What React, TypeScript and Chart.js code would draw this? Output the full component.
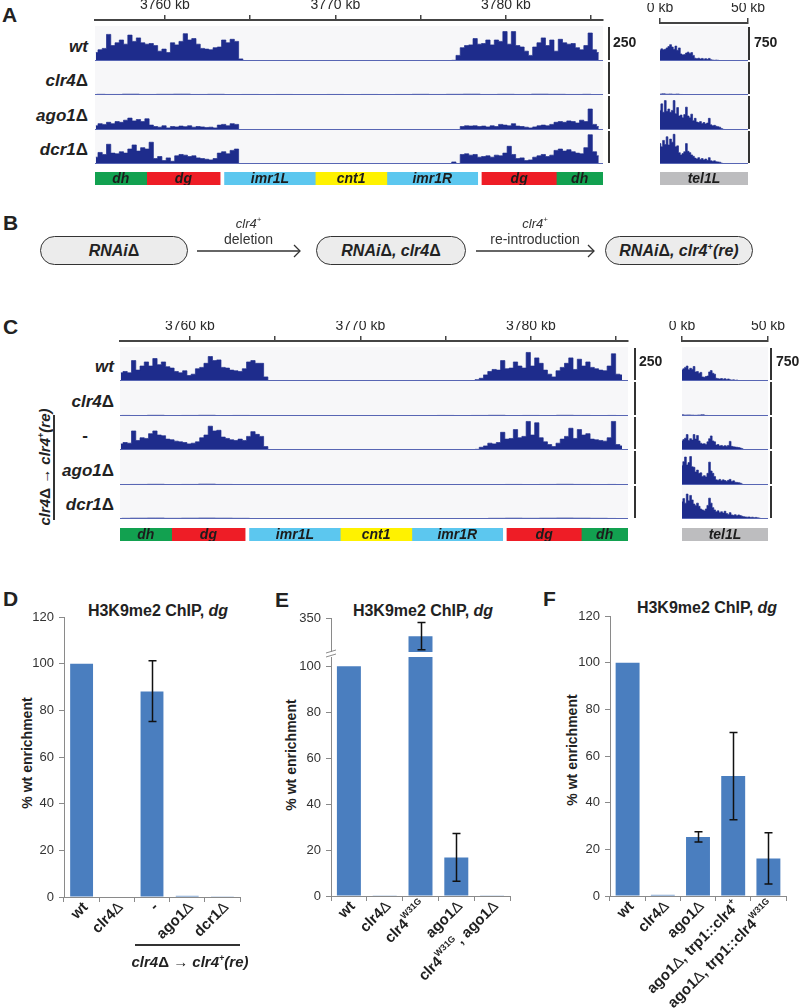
import React, { useEffect, useRef } from "react";
import { Chart, registerables } from "chart.js";
Chart.register(...registerables);

const FONT = "'Liberation Sans', Arial, Helvetica, sans-serif";
const NAVY = "#1e2c8c";
const BASELINE = "#5866b4";
const TRACK_BG = "#f7f7f9";
const BAR_BLUE = "#4a7ebf";
const AXIS_GREY = "#8a8a8a";

// ---------------- data: genome tracks ----------------
const CEN_MIN = 3755.9;
const CEN_MAX = 3785.7;
const TEL_MIN = 0;
const TEL_MAX = 50;
const CEN_SCALE = 250;
const TEL_SCALE = 750;
const CEN_BIN = 0.25;
const TEL_BIN = 1;
const FLAT_BIN = 1;
const FLAT_TEL_BIN = 2;
const CEN_FLAT_START = 3756;
const A_LEFT_START = 3755.95;
const A_RIGHT_START = 3776.7;
const C_LEFT_START = 3755.95;
const C_RIGHT_START = 3776.35;

const CEN_RULER_TICKS = [3760, 3765, 3770, 3775, 3780, 3785];
const CEN_RULER_LABELS = [3760, 3770, 3780];
const TEL_RULER_TICKS = [0, 50];
const TEL_RULER_LABELS = [0, 50];

const FEATURE_NAMES = ["dh", "dg", "imr1L", "cnt1", "imr1R", "dg", "dh"];
const FEATURE_START = [3755.9, 3758.93, 3763.5, 3768.82, 3773.02, 3778.6, 3782.96];
const FEATURE_END = [3758.93, 3763.24, 3768.82, 3773.02, 3778.35, 3782.96, 3785.7];
const FEATURE_COLORS = ["#12a150", "#ee1d26", "#5cc7ef", "#fff200", "#5cc7ef", "#ee1d26", "#12a150"];
const TEL_FEATURE_NAMES = ["tel1L"];
const TEL_FEATURE_START = [0];
const TEL_FEATURE_END = [50];
const TEL_FEATURE_COLORS = ["#bdbdbf"];

// Panel A
const A_ROWS = ["wt", "clr4Δ", "ago1Δ", "dcr1Δ"];
const A_WT_L = [60, 80, 90, 190, 110, 130, 150, 120, 185, 140, 165, 130, 120, 125, 110, 70, 85, 60, 130, 115, 140, 195, 150, 160, 120, 90, 85, 80, 95, 100, 150, 130, 155, 140, 15, 0];
const A_WT_R = [3, 5, 40, 95, 110, 115, 160, 120, 125, 150, 115, 150, 140, 210, 120, 210, 110, 100, 70, 40, 100, 130, 165, 110, 150, 70, 155, 130, 120, 125, 95, 80, 110, 200, 80, 60];
const A_CLR4_CEN = [5, 4, 6, 4, 5, 6, 4, 5, 3, 4, 3, 4, 3, 3, 4, 3, 4, 3, 4, 5, 4, 5, 6, 4, 5, 4, 6, 5, 4, 5];
const A_AGO_L = [30, 45, 40, 55, 45, 60, 55, 70, 85, 65, 75, 60, 80, 35, 25, 20, 30, 15, 25, 22, 28, 24, 30, 20, 25, 22, 18, 20, 15, 35, 40, 30, 45, 40, 3, 0];
const A_AGO_R = [0, 0, 2, 25, 30, 28, 30, 25, 28, 22, 30, 25, 40, 35, 30, 45, 28, 25, 20, 15, 22, 30, 35, 30, 40, 55, 60, 55, 65, 60, 50, 70, 60, 150, 40, 25];
const A_DCR_L = [50, 85, 70, 145, 80, 75, 90, 80, 110, 140, 95, 120, 110, 160, 40, 55, 25, 45, 20, 60, 70, 65, 55, 60, 45, 40, 35, 30, 40, 80, 90, 75, 100, 110, 3, 0];
const A_DCR_R = [0, 15, 3, 70, 75, 65, 70, 50, 55, 60, 50, 65, 60, 80, 130, 70, 40, 45, 25, 30, 50, 60, 70, 55, 65, 100, 110, 95, 105, 90, 80, 75, 120, 215, 90, 60];
const A_WT_TEL = [230, 260, 240, 250, 280, 310, 350, 300, 250, 320, 230, 280, 150, 130, 140, 170, 190, 160, 180, 120, 60, 50, 60, 45, 55, 40, 50, 35, 55, 25, 20, 15, 20, 15, 10, 3, 0];
const A_CLR4_TEL = [20, 25, 18, 22, 15, 20, 12, 10, 8, 6, 5, 4, 3, 3, 2, 2, 2, 2, 2, 2, 2, 2, 2, 2, 2, 2];
const A_AGO_TEL = [420, 560, 380, 630, 400, 450, 380, 420, 630, 350, 480, 300, 320, 260, 330, 490, 300, 260, 340, 200, 250, 170, 160, 180, 140, 160, 130, 150, 250, 110, 90, 100, 80, 70, 60, 30, 15, 5, 0];
const A_DCR_TEL = [450, 380, 520, 430, 600, 420, 550, 480, 655, 380, 400, 250, 200, 230, 270, 450, 280, 250, 200, 170, 130, 110, 140, 100, 120, 90, 110, 80, 140, 70, 60, 70, 50, 45, 40, 20, 10, 0];

// Panel C
const C_ROWS = ["wt", "clr4Δ", "-", "ago1Δ", "dcr1Δ"];
const C_WT_L = [60, 70, 60, 150, 80, 110, 140, 110, 165, 120, 140, 105, 95, 70, 60, 75, 40, 50, 90, 100, 130, 180, 150, 155, 100, 95, 80, 75, 70, 90, 140, 150, 130, 130, 30, 2];
const C_WT_R = [0, 2, 10, 20, 45, 70, 85, 80, 150, 90, 95, 140, 110, 95, 210, 110, 170, 130, 80, 50, 30, 75, 100, 130, 170, 85, 160, 110, 140, 100, 90, 80, 75, 110, 200, 50, 45];
const C_CLR4_CEN = [4, 3, 5, 3, 4, 5, 3, 4, 2, 3, 2, 3, 2, 2, 3, 2, 3, 2, 3, 4, 3, 4, 5, 3, 4, 3, 5, 4, 3, 4];
const C_RE_L = [45, 55, 50, 140, 70, 90, 85, 120, 140, 110, 105, 80, 75, 65, 60, 55, 45, 50, 60, 90, 110, 175, 140, 145, 95, 85, 75, 70, 80, 70, 100, 135, 115, 100, 25, 2];
const C_RE_R = [0, 2, 5, 20, 30, 50, 45, 55, 130, 80, 85, 150, 90, 100, 210, 110, 200, 90, 60, 40, 25, 50, 80, 100, 160, 85, 150, 110, 120, 80, 75, 70, 65, 90, 210, 40, 30];
const C_AGO_CEN = [3, 4, 5, 3, 4, 6, 4, 3, 2, 1, 1, 1, 1, 1, 1, 1, 1, 1, 1, 1, 1, 2, 3, 4, 3, 4, 5, 4, 3, 4];
const C_DCR_CEN = [5, 6, 7, 5, 6, 7, 6, 5, 3, 1, 1, 1, 1, 1, 1, 1, 1, 1, 1, 1, 1, 2, 5, 6, 5, 6, 7, 6, 5, 4];
const C_WT_TEL = [240, 270, 300, 330, 250, 280, 260, 320, 200, 210, 170, 190, 90, 80, 100, 110, 200, 230, 170, 150, 60, 50, 45, 55, 40, 50, 35, 45, 25, 20, 25, 15, 20, 10, 5, 0];
const C_CLR4_TEL = [25, 20, 22, 18, 15, 20, 25, 12, 10, 8, 6, 5, 4, 4, 3, 3, 3, 3, 3, 3, 3, 3, 3, 3, 3, 3];
const C_RE_TEL = [200, 230, 260, 340, 210, 250, 220, 340, 240, 320, 200, 150, 130, 140, 120, 180, 250, 310, 200, 180, 110, 120, 90, 100, 80, 95, 85, 100, 190, 80, 70, 65, 60, 55, 45, 30, 5, 0];
const C_AGO_TEL = [420, 500, 600, 430, 480, 610, 390, 380, 280, 320, 250, 260, 180, 200, 170, 250, 490, 300, 250, 180, 110, 100, 120, 90, 110, 95, 80, 100, 120, 75, 90, 60, 55, 50, 40, 20, 5, 0];
const C_DCR_TEL = [380, 450, 350, 550, 400, 520, 420, 330, 300, 350, 280, 220, 200, 180, 220, 300, 460, 350, 250, 200, 160, 180, 140, 160, 130, 170, 120, 100, 140, 90, 80, 95, 70, 90, 75, 60, 50, 45, 40, 45, 35, 40, 30, 35, 25, 20, 10, 5];

// ---------------- data: bar charts ----------------
const D_LABELS = ["wt", "clr4Δ", "-", "ago1Δ", "dcr1Δ"];
const D_VALUES = [100, 0, 88.1, 0.5, 0.3];
const D_ERR_LOW = [null, null, 75.2, null, null];
const D_ERR_HIGH = [null, null, 101.2, null, null];
const D_Y_TICKS = [0, 20, 40, 60, 80, 100, 120];

const E_LABELS = ["wt", "clr4Δ", "clr4^{W31G}", "ago1Δ", "clr4^{W31G}, ago1Δ"];
const E_VALUES = [100, 0.3, 270, 16.8, 0.3];
const E_ERR_LOW = [null, null, 210, 6.4, null];
const E_ERR_HIGH = [null, null, 330, 27.2, null];
const E_Y_TICKS_LOW = [0, 20, 40, 60, 80, 100];
const E_Y_TICKS_HIGH = [350];

const F_LABELS = ["wt", "clr4Δ", "ago1Δ", "ago1Δ, trp1::clr4^{+}", "ago1Δ, trp1::clr4^{W31G}"];
const F_VALUES = [100, 0.5, 25.3, 51.4, 16.1];
const F_ERR_LOW = [null, null, 23.1, 32.7, 5.1];
const F_ERR_HIGH = [null, null, 27.5, 70.1, 27.1];
const F_Y_TICKS = [0, 20, 40, 60, 80, 100, 120];

// ---------------- helpers ----------------
const BASE: any = {
  animation: false,
  responsive: false,
  maintainAspectRatio: false,
  devicePixelRatio: 1,
  events: [],
  plugins: { legend: { display: false }, tooltip: { enabled: false }, title: { display: false } },
};

function ChartCanvas({ left, top, width, height, make }: any) {
  const ref = useRef<HTMLCanvasElement>(null);
  useEffect(() => {
    const chart = new Chart(ref.current as HTMLCanvasElement, make());
    return () => chart.destroy();
  }, []);
  return (
    <canvas
      ref={ref}
      width={width}
      height={height}
      style={{ position: "absolute", left, top, width, height }}
    />
  );
}

const trackBgPlugin = {
  id: "trackBg",
  beforeDatasetsDraw(chart: any) {
    const { ctx, chartArea: a } = chart;
    ctx.save();
    ctx.fillStyle = TRACK_BG;
    ctx.fillRect(a.left, a.top, a.right - a.left, a.bottom - a.top);
    ctx.restore();
  },
  afterDatasetsDraw(chart: any) {
    const { ctx, chartArea: a } = chart;
    ctx.save();
    ctx.strokeStyle = BASELINE;
    ctx.lineWidth = 1;
    ctx.beginPath();
    ctx.moveTo(a.left, a.bottom - 0.5);
    ctx.lineTo(a.right, a.bottom - 0.5);
    ctx.stroke();
    ctx.restore();
  },
};

function trackConfig(series: any[], xMin: number, xMax: number, yMax: number) {
  return {
    type: "line",
    data: {
      datasets: series.map((s) => ({
        data: s.values.map((v: number, i: number) => ({ x: s.start + i * s.step, y: v })),
        borderColor: NAVY,
        backgroundColor: NAVY,
        borderWidth: 0.7,
        fill: "origin",
        pointRadius: 0,
        stepped: "middle",
      })),
    },
    options: {
      ...BASE,
      layout: { padding: 0 },
      scales: {
        x: { type: "linear", min: xMin, max: xMax, display: false },
        y: { type: "linear", min: 0, max: yMax, display: false },
      },
    },
    plugins: [trackBgPlugin],
  };
}

function rulerConfig(xMin: number, xMax: number, ticks: number[], labeled: number[], padX: number, axisH: number) {
  return {
    type: "line",
    data: { datasets: [] },
    options: {
      ...BASE,
      layout: { padding: { left: padX, right: padX, top: 0, bottom: 0 } },
      scales: {
        x: {
          type: "linear",
          position: "top",
          min: xMin,
          max: xMax,
          afterBuildTicks: (s: any) => {
            s.ticks = ticks.map((v) => ({ value: v }));
          },
          afterFit: (s: any) => {
            s.height = axisH;
            s.paddingLeft = 0;
            s.paddingRight = 0;
          },
          ticks: {
            autoSkip: false,
            maxRotation: 0,
            minRotation: 0,
            padding: 1,
            color: "#2a2a2a",
            font: { family: FONT, size: 14 },
            callback: (v: any) => (labeled.includes(v) ? `${v} kb` : ""),
          },
          grid: { drawOnChartArea: false, drawTicks: true, tickLength: 5, color: "#444", lineWidth: 1.5 },
          border: { display: true, color: "#444", width: 2 },
        },
        y: { display: false },
      },
    },
  };
}

const featureLabelPlugin = {
  id: "featLabels",
  afterDatasetsDraw(chart: any) {
    const { ctx } = chart;
    ctx.save();
    ctx.font = `italic bold 14px ${FONT}`;
    ctx.fillStyle = "#1c1c1c";
    ctx.textAlign = "center";
    ctx.textBaseline = "middle";
    chart.data.datasets.forEach((ds: any, i: number) => {
      const el: any = chart.getDatasetMeta(i).data[0];
      ctx.fillText(ds.label, (el.x + el.base) / 2, el.y + 1);
    });
    ctx.restore();
  },
};

function featureConfig(names: string[], starts: number[], ends: number[], colors: string[], xMin: number, xMax: number) {
  return {
    type: "bar",
    data: {
      labels: ["f"],
      datasets: names.map((n, i) => ({
        label: n,
        data: [[starts[i], ends[i]]],
        backgroundColor: colors[i],
        borderWidth: 0,
        grouped: false,
        barPercentage: 1,
        categoryPercentage: 1,
      })),
    },
    options: {
      ...BASE,
      indexAxis: "y",
      layout: { padding: 0 },
      scales: {
        x: { type: "linear", min: xMin, max: xMax, display: false },
        y: { display: false },
      },
    },
    plugins: [featureLabelPlugin],
  };
}

function parseParts(s: string) {
  return s
    .split(/(\^\{[^}]*\}|Δ)/)
    .filter((p) => p.length > 0)
    .map((p) => {
      if (p === "Δ") return { t: "Δ", light: true, sup: false };
      if (p.startsWith("^{")) return { t: p.slice(2, -1), light: false, sup: true };
      return { t: p, light: false, sup: false };
    });
}

function errorBarPlugin(lows: any[], highs: any[]) {
  return {
    id: "errBars",
    afterDatasetsDraw(chart: any) {
      const { ctx, chartArea: a } = chart;
      const meta = chart.getDatasetMeta(0);
      const y = chart.scales.y;
      ctx.save();
      ctx.beginPath();
      ctx.rect(a.left, a.top - 1, a.right - a.left, a.bottom - a.top + 2);
      ctx.clip();
      ctx.strokeStyle = "#111";
      ctx.lineWidth = 1.5;
      lows.forEach((lo, i) => {
        if (lo == null) return;
        const bx = Math.round(meta.data[i].x) + 0.5;
        const y1 = y.getPixelForValue(highs[i]);
        const y2 = y.getPixelForValue(lo);
        ctx.beginPath();
        ctx.moveTo(bx, y1);
        ctx.lineTo(bx, y2);
        ctx.moveTo(bx - 4, y1);
        ctx.lineTo(bx + 4, y1);
        ctx.moveTo(bx - 4, y2);
        ctx.lineTo(bx + 4, y2);
        ctx.stroke();
      });
      ctx.restore();
    },
  };
}

function xLabelPlugin(labels: string[], size: number) {
  return {
    id: "xLabels",
    afterDraw(chart: any) {
      const { ctx, chartArea: a } = chart;
      const x = chart.scales.x;
      labels.forEach((lab, i) => {
        const parts = parseParts(lab);
        const fonts = parts.map((p) =>
          p.sup ? `bold ${Math.round(size * 0.62)}px ${FONT}` : p.light ? `${size}px ${FONT}` : `bold ${size}px ${FONT}`
        );
        const widths = parts.map((p, j) => {
          ctx.font = fonts[j];
          return ctx.measureText(p.t).width;
        });
        const total = widths.reduce((s, w) => s + w, 0);
        ctx.save();
        ctx.translate(x.getPixelForValue(i) + 4, a.bottom + 8);
        ctx.rotate(-Math.PI / 4);
        ctx.fillStyle = "#1f1f1f";
        ctx.textAlign = "left";
        ctx.textBaseline = "middle";
        let pos = -total;
        parts.forEach((p, j) => {
          ctx.font = fonts[j];
          ctx.fillText(p.t, pos, p.sup ? -size * 0.4 : 0);
          pos += widths[j];
        });
        ctx.restore();
      });
    },
  };
}

const breakPlugin = {
  id: "axisBreak",
  afterDraw(chart: any) {
    const { ctx, chartArea: a } = chart;
    const ax = a.left;
    ctx.save();
    ctx.strokeStyle = AXIS_GREY;
    ctx.lineWidth = 1;
    [a.top - 5.5, a.top - 1.5].forEach((yy) => {
      ctx.beginPath();
      ctx.moveTo(ax - 5, yy + 1.5);
      ctx.lineTo(ax + 5, yy - 1.5);
      ctx.stroke();
    });
    ctx.restore();
  },
};

function barConfig(o: any) {
  const plugins: any[] = [errorBarPlugin(o.errLow, o.errHigh)];
  if (o.showX) plugins.push(xLabelPlugin(o.labels, 15));
  if (o.extra) plugins.push(...o.extra);
  return {
    type: "bar",
    data: {
      labels: o.labels,
      datasets: [
        {
          data: o.values,
          backgroundColor: BAR_BLUE,
          borderWidth: 0,
          barPercentage: o.barPct,
          categoryPercentage: 1,
          clip: 0,
        },
      ],
    },
    options: {
      ...BASE,
      layout: { padding: { top: o.padTop, right: o.padRight, left: 0, bottom: 0 } },
      scales: {
        x: {
          display: o.showX,
          offset: true,
          grid: { offset: true, drawOnChartArea: false, drawTicks: true, tickLength: 5, color: AXIS_GREY, lineWidth: 1 },
          border: { display: true, color: AXIS_GREY, width: 1 },
          ticks: { display: false },
          afterFit: (s: any) => {
            s.height = o.xAxisH;
            s.paddingLeft = 0;
            s.paddingRight = 0;
          },
        },
        y: {
          type: "linear",
          min: o.yMin,
          max: o.yMax,
          afterBuildTicks: (s: any) => {
            s.ticks = o.yTicks.map((v: number) => ({ value: v }));
          },
          afterFit: (s: any) => {
            s.width = o.yAxisW;
            s.paddingTop = 0;
            s.paddingBottom = 0;
          },
          grid: { drawOnChartArea: false, drawTicks: true, tickLength: 5, color: AXIS_GREY },
          border: { display: true, color: AXIS_GREY, width: 1 },
          ticks: { padding: 5, color: "#333", font: { family: FONT, size: 13 } },
        },
      },
    },
    plugins,
  };
}

function rich(s: string) {
  return parseParts(s).map((p, i) =>
    p.light ? (
      <span key={i} style={{ fontStyle: "normal" }}>
        {p.t}
      </span>
    ) : p.sup ? (
      <sup key={i} style={{ fontSize: "0.6em", lineHeight: 0 }}>
        {p.t}
      </sup>
    ) : (
      <span key={i}>{p.t}</span>
    )
  );
}

function Txt({ x, y, align = "left", size = 14, bold = false, italic = false, color = "#222", rotate = 0, children }: any) {
  const tx = align === "left" ? "0" : align === "center" ? "-50%" : "-100%";
  return (
    <div
      style={{
        position: "absolute",
        left: x,
        top: y,
        transform: `translate(${tx}, -50%)${rotate ? ` rotate(${rotate}deg)` : ""}`,
        fontSize: size,
        fontWeight: bold ? "bold" : "normal",
        fontStyle: italic ? "italic" : "normal",
        color,
        lineHeight: 1,
        whiteSpace: "nowrap",
        fontFamily: FONT,
      }}
    >
      {children}
    </div>
  );
}

function rowGeom(start: number, h: number, n: number) {
  const out = [];
  for (let i = 0; i < n; i++) {
    const t = Math.round(start + h * i);
    const b = Math.round(start + h * (i + 1));
    out.push({ top: t, height: b - t });
  }
  return out;
}

const A_CEN_SERIES = [
  [{ start: A_LEFT_START, step: CEN_BIN, values: A_WT_L }, { start: A_RIGHT_START, step: CEN_BIN, values: A_WT_R }],
  [{ start: CEN_FLAT_START, step: FLAT_BIN, values: A_CLR4_CEN }],
  [{ start: A_LEFT_START, step: CEN_BIN, values: A_AGO_L }, { start: A_RIGHT_START, step: CEN_BIN, values: A_AGO_R }],
  [{ start: A_LEFT_START, step: CEN_BIN, values: A_DCR_L }, { start: A_RIGHT_START, step: CEN_BIN, values: A_DCR_R }],
];
const A_TEL_SERIES = [
  [{ start: TEL_MIN, step: TEL_BIN, values: A_WT_TEL }],
  [{ start: TEL_MIN, step: FLAT_TEL_BIN, values: A_CLR4_TEL }],
  [{ start: TEL_MIN, step: TEL_BIN, values: A_AGO_TEL }],
  [{ start: TEL_MIN, step: TEL_BIN, values: A_DCR_TEL }],
];
const C_CEN_SERIES = [
  [{ start: C_LEFT_START, step: CEN_BIN, values: C_WT_L }, { start: C_RIGHT_START, step: CEN_BIN, values: C_WT_R }],
  [{ start: CEN_FLAT_START, step: FLAT_BIN, values: C_CLR4_CEN }],
  [{ start: C_LEFT_START, step: CEN_BIN, values: C_RE_L }, { start: C_RIGHT_START, step: CEN_BIN, values: C_RE_R }],
  [{ start: CEN_FLAT_START, step: FLAT_BIN, values: C_AGO_CEN }],
  [{ start: CEN_FLAT_START, step: FLAT_BIN, values: C_DCR_CEN }],
];
const C_TEL_SERIES = [
  [{ start: TEL_MIN, step: TEL_BIN, values: C_WT_TEL }],
  [{ start: TEL_MIN, step: FLAT_TEL_BIN, values: C_CLR4_TEL }],
  [{ start: TEL_MIN, step: TEL_BIN, values: C_RE_TEL }],
  [{ start: TEL_MIN, step: TEL_BIN, values: C_AGO_TEL }],
  [{ start: TEL_MIN, step: TEL_BIN, values: C_DCR_TEL }],
];

function TrackPanel({ cenSeries, telSeries, rows, rowStart, cenLeft, telLeft, telW, labelRight, cenBarX, telBarX, scaleY, axisY, telAxisY, featTop, dashRight }: any) {
  const g = rowGeom(rowStart, 34.5, rows.length);
  const cenW = 508;
  return (
    <>
      <ChartCanvas left={cenLeft - 40} top={axisY - 20} width={cenW + 80} height={24}
        make={() => rulerConfig(CEN_MIN, CEN_MAX, CEN_RULER_TICKS, CEN_RULER_LABELS, 40, 20)} />
      <ChartCanvas left={telLeft - 40} top={telAxisY - 20} width={telW + 80} height={24}
        make={() => rulerConfig(TEL_MIN, TEL_MAX, TEL_RULER_TICKS, TEL_RULER_LABELS, 40, 20)} />
      {g.map((r: any, i: number) => (
        <React.Fragment key={i}>
          <ChartCanvas left={cenLeft} top={r.top} width={cenW} height={r.height}
            make={() => trackConfig(cenSeries[i], CEN_MIN, CEN_MAX, CEN_SCALE)} />
          <ChartCanvas left={telLeft} top={r.top} width={telW} height={r.height}
            make={() => trackConfig(telSeries[i], TEL_MIN, TEL_MAX, TEL_SCALE)} />
          <div style={{ position: "absolute", left: cenBarX, top: r.top + 1, width: 2, height: r.height - 2, background: "#333" }} />
          <div style={{ position: "absolute", left: telBarX, top: r.top + 1, width: 2, height: r.height - 2, background: "#333" }} />
          {rows[i] === "-" ? (
            <Txt x={dashRight} y={r.top + r.height / 2 + 2} align="right" size={17} bold>-</Txt>
          ) : (
            <Txt x={labelRight} y={r.top + r.height / 2 + 2} align="right" size={17} bold italic>
              {rich(rows[i])}
            </Txt>
          )}
        </React.Fragment>
      ))}
      <Txt x={cenBarX + 5} y={scaleY} size={14} bold>250</Txt>
      <Txt x={telBarX + 6} y={scaleY} size={14} bold>750</Txt>
      <ChartCanvas left={cenLeft} top={featTop} width={cenW} height={13}
        make={() => featureConfig(FEATURE_NAMES, FEATURE_START, FEATURE_END, FEATURE_COLORS, CEN_MIN, CEN_MAX)} />
      <ChartCanvas left={telLeft} top={featTop} width={telW} height={13}
        make={() => featureConfig(TEL_FEATURE_NAMES, TEL_FEATURE_START, TEL_FEATURE_END, TEL_FEATURE_COLORS, TEL_MIN, TEL_MAX)} />
    </>
  );
}

const PILLS = [
  { x: 40, w: 148, text: "RNAiΔ" },
  { x: 316, w: 150, text: "RNAiΔ, clr4Δ" },
  { x: 605, w: 148, text: "RNAiΔ, clr4^{+}(re)" },
];
const ARROWS = [
  { x1: 197, x2: 300, top: "clr4^{+}", bottom: "deletion" },
  { x1: 476, x2: 594, top: "clr4^{+}", bottom: "re-introduction" },
];

function Title({ x, y }: any) {
  return (
    <Txt x={x} y={y} align="center" size={16} bold>
      H3K9me2 ChIP, <i>dg</i>
    </Txt>
  );
}

function YTitle({ x, y }: any) {
  return (
    <Txt x={x} y={y} align="center" size={14} bold rotate={-90}>
      % wt enrichment
    </Txt>
  );
}

export default function App() {
  const pillTop = 236;
  const pillH = 29;
  const arrowY = 251;
  return (
    <div style={{ position: "absolute", left: 0, top: 0, width: 800, height: 1008, background: "#fff", overflow: "hidden", fontFamily: FONT, color: "#222" }}>
      {/* Panel A */}
      <Txt x={2} y={14} size={21} bold>A</Txt>
      <TrackPanel cenSeries={A_CEN_SERIES} telSeries={A_TEL_SERIES} rows={A_ROWS} rowStart={26}
        cenLeft={95} telLeft={660} telW={88} labelRight={88} dashRight={88} cenBarX={608} telBarX={748}
        scaleY={42} axisY={20} telAxisY={23} featTop={172} />

      {/* Panel B */}
      <Txt x={3} y={222} size={21} bold>B</Txt>
      {PILLS.map((p, i) => (
        <div key={i} style={{ position: "absolute", left: p.x, top: pillTop, width: p.w, height: pillH, boxSizing: "border-box",
          border: "1.5px solid #333", borderRadius: 15, background: "#ececec", display: "flex", alignItems: "center", justifyContent: "center",
          fontWeight: "bold", fontStyle: "italic", fontSize: 16, color: "#222" }}>
          <span>{rich(p.text)}</span>
        </div>
      ))}
      <svg style={{ position: "absolute", left: 0, top: 0 }} width={800} height={300}>
        {ARROWS.map((a, i) => (
          <g key={i} stroke="#333" strokeWidth={1.3} fill="none">
            <line x1={a.x1} y1={arrowY} x2={a.x2} y2={arrowY} />
            <polyline points={`${a.x2 - 6},${arrowY - 6} ${a.x2},${arrowY} ${a.x2 - 6},${arrowY + 6}`} />
          </g>
        ))}
      </svg>
      {ARROWS.map((a, i) => (
        <React.Fragment key={i}>
          <Txt x={(a.x1 + a.x2) / 2} y={223} align="center" size={13} italic color="#333">{rich(a.top)}</Txt>
          <Txt x={(a.x1 + a.x2) / 2} y={239} align="center" size={14} color="#333">{a.bottom}</Txt>
        </React.Fragment>
      ))}

      {/* Panel C */}
      <Txt x={3} y={326} size={21} bold>C</Txt>
      <TrackPanel cenSeries={C_CEN_SERIES} telSeries={C_TEL_SERIES} rows={C_ROWS} rowStart={346.5}
        cenLeft={120} telLeft={682} telW={86} labelRight={114} dashRight={88} cenBarX={634} telBarX={770}
        scaleY={361} axisY={341} telAxisY={341} featTop={528} />
      <Txt x={44} y={467} align="center" size={15} bold italic rotate={-90}>{rich("clr4Δ → clr4^{+}(re)")}</Txt>
      <div style={{ position: "absolute", left: 53, top: 415, width: 1.5, height: 105, background: "#333" }} />

      {/* Panel D */}
      <Txt x={3} y={598} size={21} bold>D</Txt>
      <Title x={158} y={611} />
      <YTitle x={27} y={753} />
      <ChartCanvas left={0} top={600} width={260} height={408}
        make={() => barConfig({ labels: D_LABELS, values: D_VALUES, errLow: D_ERR_LOW, errHigh: D_ERR_HIGH, yMin: 0, yMax: 120,
          yTicks: D_Y_TICKS, padTop: 17, padRight: 20, yAxisW: 64, xAxisH: 111, showX: true, barPct: 0.65 })} />
      <div style={{ position: "absolute", left: 135, top: 944, width: 105, height: 1.5, background: "#333" }} />
      <Txt x={190} y={961} align="center" size={15} bold italic>{rich("clr4Δ → clr4^{+}(re)")}</Txt>

      {/* Panel E */}
      <Txt x={275} y={599} size={21} bold>E</Txt>
      <Title x={423} y={611} />
      <YTitle x={291} y={755} />
      <ChartCanvas left={265} top={600} width={265} height={52}
        make={() => barConfig({ labels: E_LABELS, values: E_VALUES, errLow: E_ERR_LOW, errHigh: E_ERR_HIGH, yMin: 200, yMax: 350,
          yTicks: E_Y_TICKS_HIGH, padTop: 18, padRight: 20, yAxisW: 66, xAxisH: 0, showX: false, barPct: 0.67 })} />
      <ChartCanvas left={265} top={645} width={265} height={363}
        make={() => barConfig({ labels: E_LABELS, values: E_VALUES, errLow: E_ERR_LOW, errHigh: E_ERR_HIGH, yMin: 0, yMax: 104,
          yTicks: E_Y_TICKS_LOW, padTop: 12, padRight: 20, yAxisW: 66, xAxisH: 112, showX: true, barPct: 0.67, extra: [breakPlugin] })} />

      {/* Panel F */}
      <Txt x={543} y={598} size={21} bold>F</Txt>
      <Title x={707} y={608} />
      <YTitle x={572} y={750} />
      <ChartCanvas left={530} top={600} width={270} height={408}
        make={() => barConfig({ labels: F_LABELS, values: F_VALUES, errLow: F_ERR_LOW, errHigh: F_ERR_HIGH, yMin: 0, yMax: 120,
          yTicks: F_Y_TICKS, padTop: 16, padRight: 14, yAxisW: 80, xAxisH: 112, showX: true, barPct: 0.68 })} />
    </div>
  );
}
